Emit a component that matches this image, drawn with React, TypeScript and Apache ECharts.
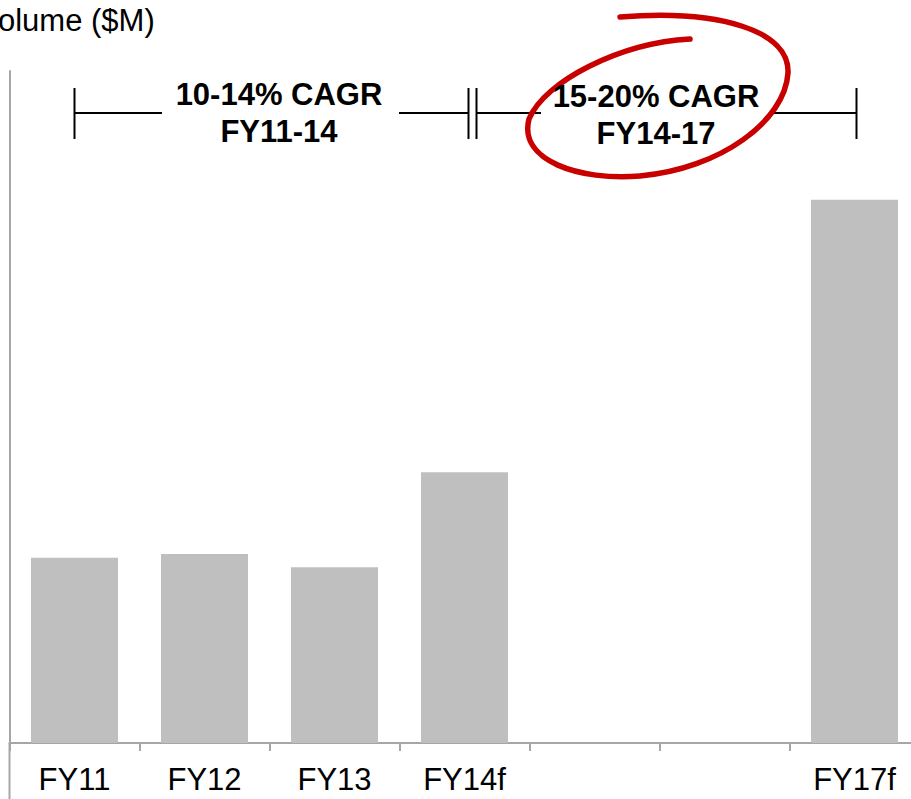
import React, { useEffect, useRef } from "react";
import * as echarts from "echarts";

// Fiscal years on the category axis; the two blank slots are FY15f and FY16f, left unlabeled.
const categories = ["FY11", "FY12", "FY13", "FY14f", "", "", "FY17f"];
// Volume in $M per year (no bars for the two blank years).
const volume: (number | null)[] = [193, 197, 183, 282, null, null, 566];
const yMax = 700;

const titleText = "Volume ($M)";
const leftSpan = ["10-14% CAGR", "FY11-14"];
const rightSpan = ["15-20% CAGR", "FY14-17"];

// Hand-drawn highlight loop around the second growth label (local coords around its centre).
const LOOP_D =
  "M 33 -57 C -37 -53 -112 -15 -128 23 C -139 65 -77 85 -17 80 C 63 73 128 25 131 -23 C 133 -65 63 -87 -37 -79";
echarts.graphic.registerShape("highlightLoop", echarts.graphic.extendPath(LOOP_D, {}) as any);

const FONT = 'Arial, "Liberation Sans", Helvetica, sans-serif';
const AXIS_GREY = "#a6a6a6";
const BAR_GREY = "#bfbfbf";

export default function App() {
  const ref = useRef<HTMLDivElement>(null);

  useEffect(() => {
    if (!ref.current) return;
    const chart = echarts.init(ref.current, undefined, { renderer: "svg" });

    const gridTop = 71;
    const gridBottomY = 743;

    chart.setOption({
      animation: false,
      grid: { left: 9.5, top: gridTop, width: 910, height: gridBottomY - gridTop },
      xAxis: {
        type: "category",
        data: categories,
        axisLine: { show: true, lineStyle: { color: AXIS_GREY, width: 2 } },
        axisTick: { show: true, length: 8, alignWithLabel: false, lineStyle: { color: AXIS_GREY, width: 2 } },
        axisLabel: { color: "#000", fontSize: 31, fontFamily: FONT, margin: 21, interval: 0 },
        splitLine: { show: false },
      },
      yAxis: {
        type: "value",
        min: 0,
        max: yMax,
        axisLine: { show: true, lineStyle: { color: AXIS_GREY, width: 2 } },
        axisTick: { show: false },
        axisLabel: { show: false },
        splitLine: { show: false },
      },
      series: [
        {
          type: "bar",
          data: volume,
          barWidth: 87,
          itemStyle: { color: BAR_GREY },
        },
      ],
    });

    // Bracket ends anchored to the category centres.
    const px = (name: string) => chart.convertToPixel({ xAxisIndex: 0 }, name) as number;
    const xA = px("FY11");
    const xB = px("FY14f");
    const xC = px("FY17f") + 2;

    const yMid = 113;
    const yTop = 88;
    const yBot = 139;
    const black = { stroke: "#000", lineWidth: 2 };

    const hLine = (x1: number, x2: number) => ({
      type: "line",
      shape: { x1, y1: yMid, x2, y2: yMid },
      style: black,
      silent: true,
    });
    const vLine = (x: number) => ({
      type: "line",
      shape: { x1: x, y1: yTop, x2: x, y2: yBot },
      style: black,
      silent: true,
    });

    const spanText = (x: number, y: number, lines: string[]) => ({
      type: "text",
      x,
      y,
      z: 10,
      style: {
        text: lines.join("\n"),
        fontSize: 31,
        fontWeight: "bold",
        fontFamily: FONT,
        fill: "#000",
        align: "center",
        verticalAlign: "middle",
        lineHeight: 37,
      },
      silent: true,
    });

    chart.setOption({
      graphic: [
        // axis title, partly running off the left edge
        {
          type: "text",
          x: -21,
          y: 5,
          style: { text: titleText, fontSize: 31, fontFamily: FONT, fill: "#000", verticalAlign: "top" },
          silent: true,
        },
        // value axis continues below the category axis
        {
          type: "line",
          shape: { x1: 9.5, y1: gridBottomY, x2: 9.5, y2: 799 },
          style: { stroke: AXIS_GREY, lineWidth: 2 },
          silent: true,
        },
        // FY11–FY14 bracket
        vLine(xA),
        hLine(xA, 162),
        hLine(399, xB + 4),
        vLine(xB + 4),
        // FY14–FY17 bracket
        vLine(xB + 12),
        hLine(xB + 12, 541),
        hLine(773, xC),
        vLine(xC),
        // red loop around the forecast growth
        {
          type: "highlightLoop",
          x: 657,
          y: 96,
          z: 5,
          style: { fill: "none", stroke: "#c80000", lineWidth: 5.5, lineCap: "round", lineJoin: "round" },
          silent: true,
        },
        spanText(279, 113, leftSpan),
        spanText(656, 115, rightSpan),
      ],
    });

    return () => chart.dispose();
  }, []);

  return (
    <div style={{ position: "fixed", left: 0, top: 0, width: 911, height: 799, overflow: "hidden", background: "#fff" }}>
      <div ref={ref} style={{ width: 920, height: 799 }} />
    </div>
  );
}
